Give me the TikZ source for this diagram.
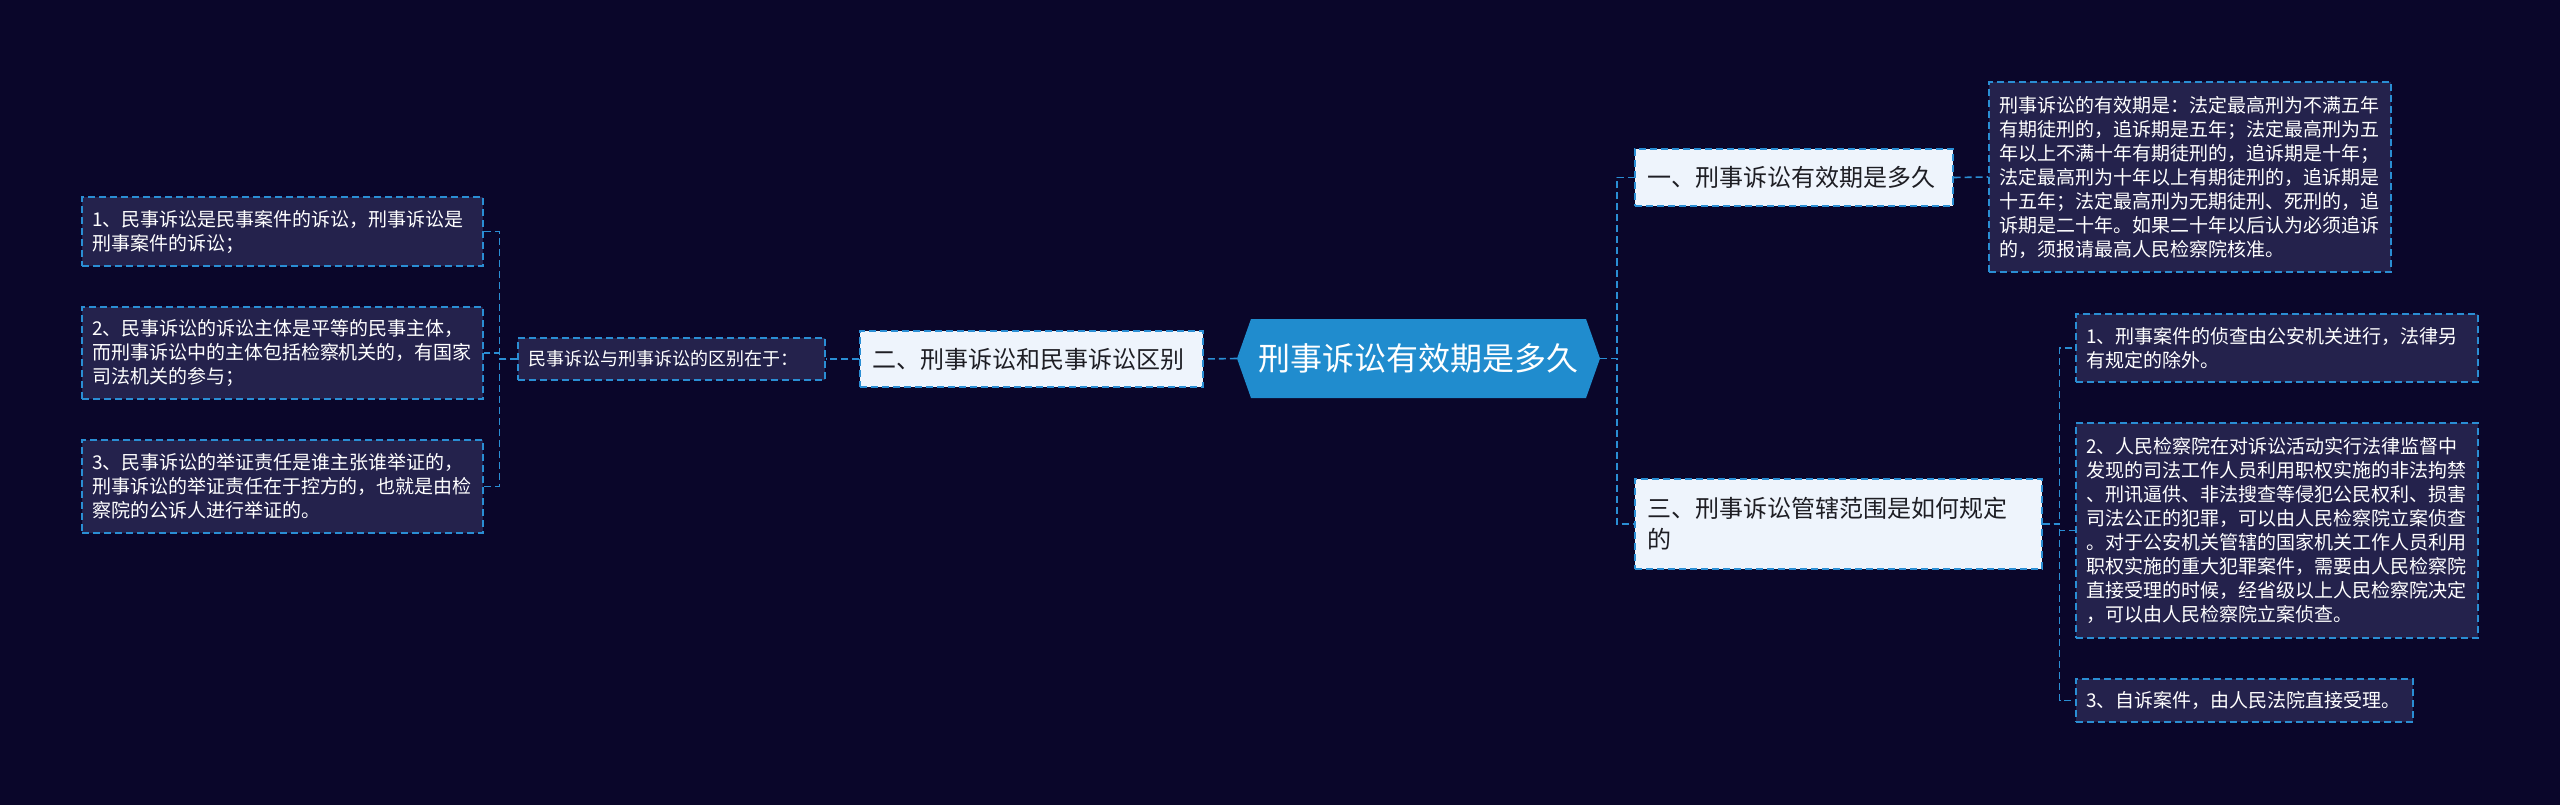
\documentclass[tikz,border=0pt]{standalone}
\usepackage{fontspec}
\setmainfont{Noto Sans CJK SC}
\usepackage{xcolor}
\usepackage{tikz}
\usetikzlibrary{shapes.symbols, positioning}
\definecolor{mmback}{RGB}{10,6,42}
\definecolor{mmhub}{RGB}{32,140,206}
\definecolor{mmline}{RGB}{42,142,212}
\definecolor{mmtopic}{RGB}{238,244,252}
\definecolor{mmnote}{RGB}{36,34,76}
\definecolor{mmdark}{RGB}{30,30,36}

\begin{document}
\begin{tikzpicture}[
  x=1pt, y=-1pt,
  every node/.style={font=\fontsize{19}{24}\selectfont},
  hub/.style={signal, signal to=west and east, signal pointer angle=141,
              fill=mmhub, text=white, font=\fontsize{32}{38}\selectfont,
              minimum width=363pt, minimum height=79pt, inner sep=0pt},
  topic/.style={rectangle, draw=mmline, dash pattern=on 7pt off 4pt,
                line width=1.3pt, fill=mmtopic, text=mmdark,
                font=\fontsize{24}{31}\selectfont, align=left,
                inner xsep=12pt, inner ysep=6pt},
  note/.style={rectangle, draw=mmline, dash pattern=on 7pt off 4pt,
               line width=1.3pt, fill=mmnote, text=white, align=left,
               inner xsep=10pt, inner ysep=6pt},
  link/.style={draw=mmline, line width=1.6pt, dash pattern=on 7pt off 4pt},
]

\fill[mmback] (0,0) rectangle (2560,805);
\useasboundingbox (0,0) rectangle (2560,805);

\node[hub] (root) at (1418.5,358.5) {刑事诉讼有效期是多久};

% ── Right: 有效期 ──
\node[topic, text width=294pt, minimum height=57pt] (b1) at (1794,177.5)
  {一、刑事诉讼有效期是多久};
\node[note, text width=382pt, minimum height=190pt] (r1) at (2190,177)
  {刑事诉讼的有效期是：法定最高刑为不满五年\\
   有期徒刑的，追诉期是五年；法定最高刑为五\\
   年以上不满十年有期徒刑的，追诉期是十年；\\
   法定最高刑为十年以上有期徒刑的，追诉期是\\
   十五年；法定最高刑为无期徒刑、死刑的，追\\
   诉期是二十年。如果二十年以后认为必须追诉\\
   的，须报请最高人民检察院核准。};
\draw[link] (root.east) -- ++(17,0) |- (b1.west);
\draw[link] (b1.east) -- (r1.west);

% ── Right: 管辖范围 ──
\node[topic, text width=383pt, minimum height=90pt] (b3) at (1838.5,524)
  {三、刑事诉讼管辖范围是如何规定\\的};
\node[note, text width=382pt, minimum height=68pt] (r3a) at (2277,348)
  {1、刑事案件的侦查由公安机关进行，法律另\\有规定的除外。};
\node[note, text width=382pt, minimum height=215pt] (r3b) at (2277,530.5)
  {2、人民检察院在对诉讼活动实行法律监督中\\
   发现的司法工作人员利用职权实施的非法拘禁\\
   、刑讯逼供、非法搜查等侵犯公民权利、损害\\
   司法公正的犯罪，可以由人民检察院立案侦查\\
   。对于公安机关管辖的国家机关工作人员利用\\
   职权实施的重大犯罪案件，需要由人民检察院\\
   直接受理的时候，经省级以上人民检察院决定\\
   ，可以由人民检察院立案侦查。};
\node[note, text width=317pt, minimum height=43pt] (r3c) at (2244.5,700.5)
  {3、自诉案件，由人民法院直接受理。};
\draw[link] (root.east) -- ++(17,0) |- (b3.west);
\draw[link] (b3.east) -- ++(17,0) |- (r3a.west);
\draw[link] (b3.east) -- ++(17,0) |- (r3b.west);
\draw[link] (b3.east) -- ++(17,0) |- (r3c.west);

% ── Left: 区别 ──
\node[topic, text width=319pt, minimum height=56pt] (b2) at (1031.5,359)
  {二、刑事诉讼和民事诉讼区别};
\node[note, text width=287pt, minimum height=42pt, inner xsep=10pt,
      font=\fontsize{18}{22}\selectfont] (mid) at (671.5,359)
  {民事诉讼与刑事诉讼的区别在于：};
\node[note, text width=381pt, minimum height=69pt] (l1) at (282.5,231.5)
  {1、民事诉讼是民事案件的诉讼，刑事诉讼是\\刑事案件的诉讼；};
\node[note, text width=381pt, minimum height=92pt] (l2) at (282.5,353)
  {2、民事诉讼的诉讼主体是平等的民事主体，\\
   而刑事诉讼中的主体包括检察机关的，有国家\\
   司法机关的参与；};
\node[note, text width=381pt, minimum height=93pt] (l3) at (282.5,486.5)
  {3、民事诉讼的举证责任是谁主张谁举证的，\\
   刑事诉讼的举证责任在于控方的，也就是由检\\
   察院的公诉人进行举证的。};
\draw[link] (root.west) -- (b2.east);
\draw[link] (b2.west) -- (mid.east);
\draw[link] (mid.west) -- ++(-18,0) |- (l1.east);
\draw[link] (mid.west) -- ++(-18,0) |- (l2.east);
\draw[link] (mid.west) -- ++(-18,0) |- (l3.east);

\end{tikzpicture}
\end{document}
